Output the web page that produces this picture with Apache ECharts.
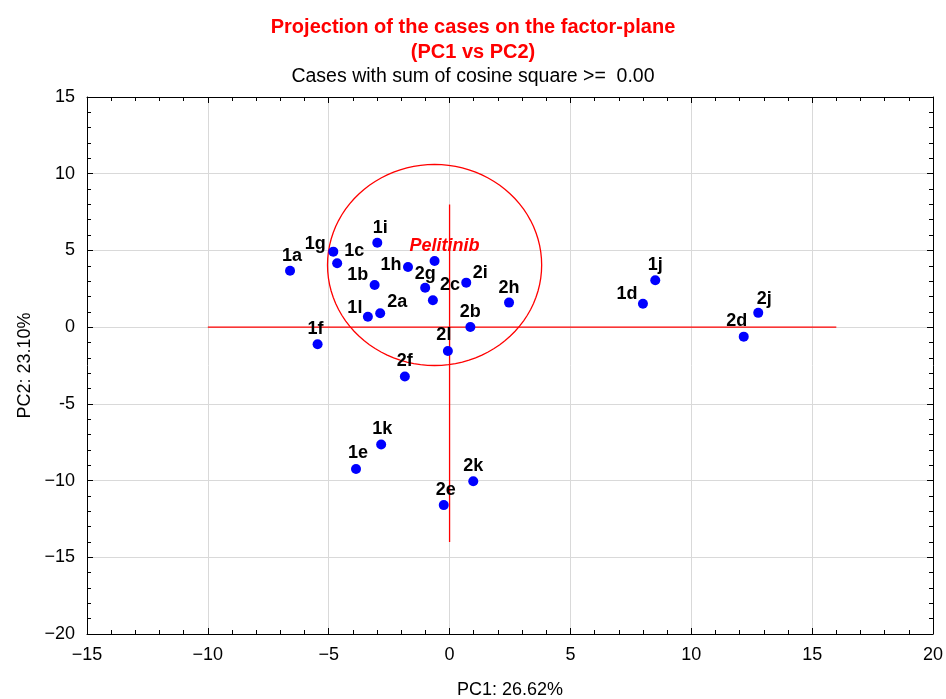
<!DOCTYPE html>
<html>
<head>
<meta charset="utf-8">
<title>PC1 vs PC2</title>
<script src="https://cdn.jsdelivr.net/npm/echarts@6/dist/echarts.min.js"></script>
<style>
  html, body { margin: 0; padding: 0; background: #fff; }
  #chart { width: 946px; height: 699px; }
</style>
</head>
<body>
<div id="chart"></div>
<script>
// case labels and their scores on the factor plane
const caseNames = ['1a', '1g', '1c', '1i', 'Pelitinib', '1h', '1b', '2g', '2c', '2i', '2h', '1l', '2a',
  '2b', '2l', '1f', '2f', '1k', '1e', '2k', '2e', '1j', '1d', '2j', '2d'];
const pc1 = [-6.60, -4.81, -4.65, -2.99, -0.62, -1.72, -3.10, -1.01, -0.69, 0.69, 2.46, -3.38, -2.87,
  0.86, -0.07, -5.46, -1.85, -2.83, -3.87, 0.98, -0.24, 8.51, 8.00, 12.77, 12.17];
const pc2 = [3.68, 4.92, 4.16, 5.50, 4.31, 3.92, 2.75, 2.57, 1.75, 2.90, 1.60, 0.68, 0.91,
  0.01, -1.55, -1.11, -3.22, -7.65, -9.24, -10.04, -11.60, 3.06, 1.53, 0.93, -0.62];

// red reference cross and circle (center x, center y, radius x, radius y)
const crossH = [[-10, 0], [16, 0]];
const crossV = [[0, 8], [0, -14]];
const circle = [[-0.62, 4.05, 4.43, 6.55]];

const xTicks = { min: -15, max: 20, step: 5 };
const yTicks = { min: -20, max: 15, step: 5 };

// where each label sits relative to its dot (px)
const labelOffset = {
  '1a': [2, -15], '1g': [-18, -8], '1c': [17, -12], '1i': [3, -15], 'Pelitinib': [10, -15],
  '1h': [-17, -2], '1b': [-17, -10], '2g': [0, -14], '2c': [17, -15], '2i': [14, -10],
  '2h': [0, -15], '1l': [-13, -9], '2a': [17, -11], '2b': [0, -15], '2l': [-4, -16],
  '1f': [-2, -15], '2f': [0, -16], '1k': [1, -15], '1e': [2, -16], '2k': [0, -15],
  '2e': [2, -15], '1j': [0, -15], '1d': [-16, -10], '2j': [6, -14], '2d': [-7, -16]
};

const FONT = 'Liberation Sans, Arial, sans-serif';

const points = caseNames.map((n, i) => {
  const isDrug = n === 'Pelitinib';
  return {
    name: n,
    value: [pc1[i], pc2[i]],
    label: {
      offset: labelOffset[n],
      color: isDrug ? '#ff0000' : '#000',
      fontStyle: isDrug ? 'italic' : 'normal'
    }
  };
});

function minus(v) {
  return v < 0 ? '\u2212' + Math.abs(v) : String(v);
}

function axisCommon(pos, t, withLabels) {
  return {
    type: 'value',
    position: pos,
    min: t.min,
    max: t.max,
    interval: t.step,
    axisLine: { show: true, onZero: false, lineStyle: { color: '#000', width: 1 } },
    axisTick: { show: true, inside: true, length: 6, lineStyle: { color: '#000' } },
    minorTick: { show: true, splitNumber: 5, length: 4, lineStyle: { color: '#000' } },
    splitLine: { show: withLabels, lineStyle: { color: '#d9d9d9', width: 1 } },
    axisLabel: { show: withLabels, fontFamily: FONT, fontSize: 18, color: '#000', margin: 12 }
  };
}

const xBottom = axisCommon('bottom', xTicks, true);
xBottom.axisLabel.formatter = minus;
xBottom.name = 'PC1: 26.62%';
xBottom.nameLocation = 'middle';
xBottom.nameGap = 47;
xBottom.nameTextStyle = { fontFamily: FONT, fontSize: 18, color: '#000' };

const xTop = axisCommon('top', xTicks, false);

const yLeft = axisCommon('left', yTicks, true);
yLeft.axisLabel.formatter = v => (v === -5 ? '-5' : minus(v));
yLeft.name = 'PC2: 23.10%';
yLeft.nameLocation = 'middle';
yLeft.nameGap = 52;
yLeft.nameTextStyle = { fontFamily: FONT, fontSize: 18, color: '#000' };

const yRight = axisCommon('right', yTicks, false);

const chart = echarts.init(document.getElementById('chart'));
chart.setOption({
  animation: false,
  backgroundColor: '#fff',
  title: [
    {
      text: 'Projection of the cases on the factor-plane\n(PC1 vs PC2)',
      left: 'center',
      top: 10,
      textStyle: { fontFamily: FONT, fontSize: 20, fontWeight: 'bold', color: '#ff0000', lineHeight: 25 }
    },
    {
      text: 'Cases with sum of cosine square >=  0.00',
      left: 'center',
      top: 62,
      textStyle: { fontFamily: FONT, fontSize: 19.5, fontWeight: 'normal', color: '#000' }
    }
  ],
  grid: { left: 87, right: 13, top: 97, bottom: 65, outerBoundsMode: 'none', containLabel: false },
  xAxis: [xBottom, xTop],
  yAxis: [yLeft, yRight],
  series: [
    {
      type: 'line',
      data: crossH,
      symbol: 'none',
      silent: true,
      lineStyle: { color: '#ff0000', width: 1.3 },
      z: 1
    },
    {
      type: 'line',
      data: crossV,
      symbol: 'none',
      silent: true,
      lineStyle: { color: '#ff0000', width: 1.3 },
      z: 1
    },
    {
      type: 'custom',
      data: circle,
      silent: true,
      z: 1,
      renderItem: function (params, api) {
        const c = api.coord([api.value(0), api.value(1)]);
        const s = api.size([api.value(2), api.value(3)]);
        const pts = [];
        for (let k = 0; k <= 96; k++) {
          const a = k / 96 * Math.PI * 2;
          pts.push([c[0] + s[0] * Math.cos(a), c[1] + s[1] * Math.sin(a)]);
        }
        return {
          type: 'polygon',
          shape: { points: pts },
          style: { fill: 'none', stroke: '#ff0000', lineWidth: 1.3 }
        };
      }
    },
    {
      type: 'scatter',
      data: points,
      symbol: 'circle',
      symbolSize: 10,
      itemStyle: { color: '#0000ff', opacity: 1 },
      z: 3,
      label: {
        show: true,
        position: 'inside',
        formatter: '{b}',
        fontFamily: FONT,
        fontSize: 18,
        fontWeight: 'bold',
        opacity: 1
      }
    }
  ]
});
</script>
</body>
</html>
